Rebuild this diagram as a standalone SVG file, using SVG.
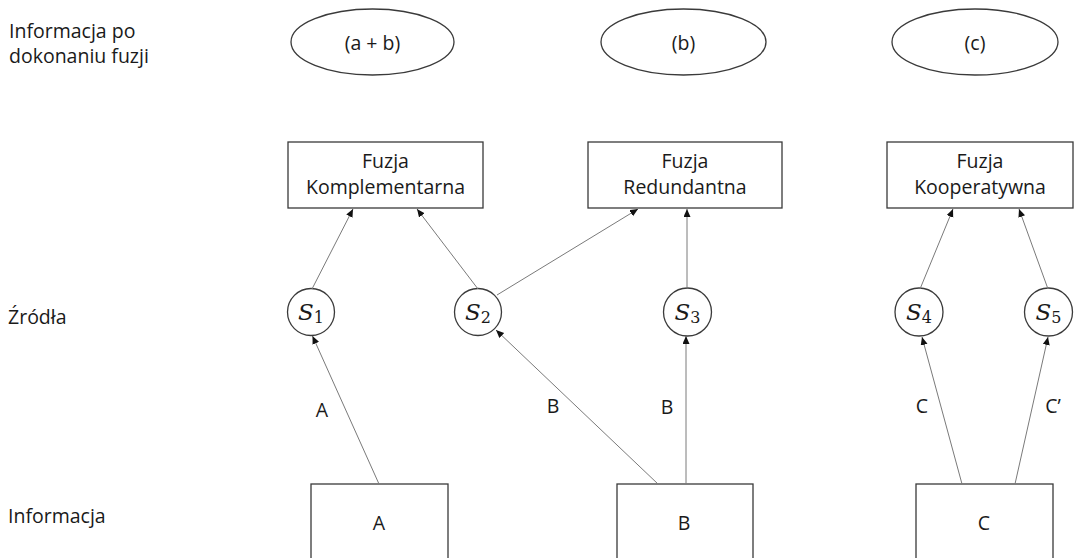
<svg xmlns="http://www.w3.org/2000/svg" width="1074" height="558" viewBox="0 0 1074 558">
  <style>
    .lbl { font-family: "Open Sans", "Liberation Sans", sans-serif; font-size: 19.5px; fill: #1a1a1a; }
    .mid { text-anchor: middle; }
    .shape { fill: #ffffff; stroke: #3a3a3a; stroke-width: 1.3; }
    .src { fill: #ffffff; stroke: #3a3a3a; stroke-width: 1.3; }
    .sym { font-family: "DejaVu Serif", "Liberation Serif", serif; font-size: 23px; fill: #1a1a1a; }
    .edge { stroke: #7a7a7a; stroke-width: 1; fill: none; marker-end: url(#arrow); }
  </style>
  <defs>
    <marker id="arrow" markerUnits="userSpaceOnUse" markerWidth="9" markerHeight="8" refX="8" refY="3.5" orient="auto">
      <path d="M0,0 L8,3.5 L0,7 z" fill="#111111"/>
    </marker>
  </defs>
  <rect width="1074" height="558" fill="#ffffff"/>

  <!-- row labels -->
  <g id="row-labels">
    <text class="lbl" x="9" y="38">Informacja po</text>
    <text class="lbl" x="9" y="63">dokonaniu fuzji</text>
    <text class="lbl" x="8" y="324">Źródła</text>
    <text class="lbl" x="8" y="523">Informacja</text>
  </g>

  <!-- fused information -->
  <g id="result-ab">
    <ellipse class="shape" cx="372.5" cy="42" rx="81.5" ry="33"/>
    <text class="lbl mid" x="372.5" y="50">(a + b)</text>
  </g>
  <g id="result-b">
    <ellipse class="shape" cx="683.5" cy="42" rx="82.5" ry="33"/>
    <text class="lbl mid" x="683.5" y="50">(b)</text>
  </g>
  <g id="result-c">
    <ellipse class="shape" cx="975" cy="42" rx="83" ry="33"/>
    <text class="lbl mid" x="975" y="50">(c)</text>
  </g>

  <!-- fusion types -->
  <g id="fusion-complementary">
    <rect class="shape" x="288" y="142" width="195" height="66"/>
    <text class="lbl mid" x="385.5" y="168">Fuzja</text>
    <text class="lbl mid" x="385.5" y="194">Komplementarna</text>
  </g>
  <g id="fusion-redundant">
    <rect class="shape" x="588" y="142" width="194" height="66"/>
    <text class="lbl mid" x="685" y="168">Fuzja</text>
    <text class="lbl mid" x="685" y="194">Redundantna</text>
  </g>
  <g id="fusion-cooperative">
    <rect class="shape" x="887" y="142" width="186" height="66"/>
    <text class="lbl mid" x="980" y="168">Fuzja</text>
    <text class="lbl mid" x="980" y="194">Kooperatywna</text>
  </g>

  <!-- sources -->
  <g id="s1">
    <circle class="src" cx="311" cy="312" r="23.5"/>
    <text class="sym mid" x="311" y="320"><tspan font-style="italic">S</tspan><tspan font-size="16" dy="3">1</tspan></text>
  </g>
  <g id="s2">
    <circle class="src" cx="478" cy="312" r="23.5"/>
    <text class="sym mid" x="478" y="320"><tspan font-style="italic">S</tspan><tspan font-size="16" dy="3">2</tspan></text>
  </g>
  <g id="s3">
    <circle class="src" cx="687.5" cy="312" r="24"/>
    <text class="sym mid" x="687.5" y="320"><tspan font-style="italic">S</tspan><tspan font-size="16" dy="3">3</tspan></text>
  </g>
  <g id="s4">
    <circle class="src" cx="919" cy="312" r="24"/>
    <text class="sym mid" x="919" y="320"><tspan font-style="italic">S</tspan><tspan font-size="16" dy="3">4</tspan></text>
  </g>
  <g id="s5">
    <circle class="src" cx="1048.5" cy="312" r="24"/>
    <text class="sym mid" x="1048.5" y="320"><tspan font-style="italic">S</tspan><tspan font-size="16" dy="3">5</tspan></text>
  </g>

  <!-- input information -->
  <g id="info-a">
    <rect class="shape" x="311" y="484" width="137" height="100"/>
    <text class="lbl mid" x="379" y="530">A</text>
  </g>
  <g id="info-b">
    <rect class="shape" x="617" y="484" width="136" height="100"/>
    <text class="lbl mid" x="684" y="530">B</text>
  </g>
  <g id="info-c">
    <rect class="shape" x="916" y="484" width="137" height="100"/>
    <text class="lbl mid" x="984" y="530">C</text>
  </g>

  <!-- connectors -->
  <g id="connectors">
    <line class="edge" x1="312" y1="289" x2="353" y2="209"/>
    <line class="edge" x1="478" y1="289" x2="417" y2="209"/>
    <line class="edge" x1="497" y1="295" x2="638" y2="209"/>
    <line class="edge" x1="687" y1="288" x2="687" y2="209"/>
    <line class="edge" x1="920" y1="289" x2="953" y2="209"/>
    <line class="edge" x1="1048" y1="289" x2="1019" y2="209"/>
    <line class="edge" x1="379" y1="484" x2="312.5" y2="336"/>
    <line class="edge" x1="658" y1="484" x2="496" y2="330"/>
    <line class="edge" x1="686" y1="484" x2="686" y2="336"/>
    <line class="edge" x1="962" y1="484" x2="922" y2="337"/>
    <line class="edge" x1="1015" y1="484" x2="1048" y2="337"/>
    <text class="lbl mid" x="322" y="417">A</text>
    <text class="lbl mid" x="553" y="413">B</text>
    <text class="lbl mid" x="667" y="414">B</text>
    <text class="lbl mid" x="922" y="413">C</text>
    <text class="lbl mid" x="1053" y="413">C’</text>
  </g>
</svg>
